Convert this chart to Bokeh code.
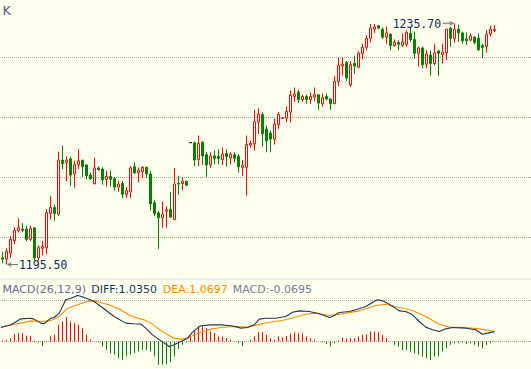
from bokeh.plotting import figure
from bokeh.layouts import column
from bokeh.models import Range1d, Arrow, OpenHead
from bokeh.core.properties import value
from bokeh.embed import file_html
from bokeh.resources import INLINE

# ---------------- data ----------------
opens = [1196.6, 1196.4, 1197.4, 1199.5, 1201.1, 1201.4, 1201.4, 1199.7, 1201.6, 1196.6,
         1198.2, 1198.3, 1204.0, 1205.0, 1203.9, 1212.9, 1212.5, 1213.1, 1210.6, 1212.1,
         1212.9, 1212.1, 1210.4, 1209.0, 1211.6, 1211.4, 1209.7, 1210.2, 1209.8, 1208.4,
         1209.0, 1207.2, 1207.6, 1211.8, 1210.8, 1211.0, 1211.7, 1210.6, 1205.8, 1204.1,
         1203.3, 1204.4, 1204.7, 1203.0, 1209.0, 1209.0, 1209.4, 1215.8, 1215.8, 1213.0,
         1215.9, 1213.8, 1212.1, 1213.6, 1213.5, 1213.0, 1214.0, 1213.3, 1213.8, 1213.5,
         1211.7, 1211.7, 1215.4, 1215.6, 1219.2, 1220.5, 1218.1, 1217.4, 1216.4, 1218.8,
         1219.9, 1219.9, 1220.9, 1223.5, 1224.2, 1223.0, 1223.5, 1223.0, 1223.4, 1223.8,
         1222.3, 1223.5, 1223.1, 1222.3, 1226.0, 1228.6, 1229.2, 1225.4, 1229.0, 1228.4,
         1230.7, 1231.7, 1233.2, 1234.7, 1235.3, 1234.7, 1233.4, 1233.9, 1232.0, 1232.5,
         1232.0, 1232.2, 1234.0, 1233.0, 1230.7, 1231.6, 1228.9, 1230.4, 1229.0, 1231.1,
         1230.5, 1230.8, 1234.9, 1233.1, 1234.7, 1234.1, 1233.1, 1232.9, 1233.4, 1233.2,
         1232.0, 1231.8, 1233.9, 1234.5]
highs = [1197.6, 1198.2, 1200.2, 1201.7, 1203.2, 1202.4, 1201.9, 1201.9, 1201.7, 1198.7,
         1199.4, 1204.7, 1206.9, 1205.5, 1214.3, 1215.3, 1213.5, 1213.5, 1212.8, 1214.7,
         1212.9, 1212.1, 1210.8, 1213.3, 1211.8, 1211.7, 1211.1, 1211.2, 1210.1, 1209.4,
         1209.4, 1208.4, 1211.9, 1212.5, 1211.7, 1211.9, 1211.8, 1211.1, 1206.2, 1204.4,
         1206.0, 1205.2, 1207.6, 1211.6, 1210.3, 1210.0, 1209.4, 1215.8, 1215.8, 1217.0,
         1216.0, 1214.2, 1214.2, 1214.5, 1214.7, 1215.0, 1214.7, 1214.2, 1214.2, 1213.9,
         1212.9, 1217.0, 1216.1, 1221.3, 1221.5, 1220.9, 1218.7, 1217.8, 1219.8, 1220.9,
         1219.9, 1221.8, 1224.5, 1225.0, 1224.6, 1223.8, 1223.8, 1224.2, 1225.0, 1223.8,
         1224.0, 1224.0, 1223.1, 1226.9, 1230.0, 1230.0, 1229.4, 1229.4, 1230.3, 1231.0,
         1232.3, 1233.7, 1235.6, 1235.6, 1235.4, 1235.0, 1235.1, 1234.0, 1233.0, 1232.9,
         1234.0, 1234.5, 1235.1, 1234.3, 1231.8, 1231.8, 1231.2, 1231.2, 1232.3, 1231.2,
         1232.3, 1234.8, 1235.1, 1235.7, 1235.5, 1234.3, 1234.2, 1234.0, 1233.5, 1234.0,
         1232.3, 1234.6, 1235.3, 1235.4]
lows = [1195.7, 1195.5, 1196.6, 1198.9, 1200.8, 1200.9, 1199.4, 1199.4, 1196.2, 1196.1,
        1197.0, 1197.2, 1203.0, 1202.8, 1203.6, 1211.4, 1209.4, 1208.6, 1208.3, 1211.4,
        1210.1, 1209.7, 1209.6, 1208.8, 1211.1, 1208.8, 1208.5, 1208.5, 1207.8, 1207.6,
        1206.5, 1206.6, 1206.6, 1210.6, 1209.2, 1209.9, 1210.0, 1204.5, 1203.6, 1198.1,
        1201.6, 1201.7, 1203.3, 1203.0, 1207.1, 1207.9, 1208.7, 1215.8, 1211.9, 1211.9,
        1212.1, 1210.1, 1211.6, 1212.2, 1212.2, 1212.1, 1211.8, 1212.2, 1212.5, 1210.8,
        1210.3, 1207.0, 1215.0, 1214.5, 1217.3, 1215.1, 1214.2, 1214.2, 1215.5, 1218.1,
        1219.9, 1219.2, 1219.2, 1222.6, 1222.4, 1222.6, 1222.3, 1222.3, 1222.7, 1221.2,
        1221.8, 1222.8, 1221.3, 1222.2, 1225.2, 1227.0, 1226.1, 1225.1, 1227.3, 1228.2,
        1229.7, 1231.2, 1232.5, 1234.1, 1234.7, 1233.1, 1232.3, 1231.2, 1231.8, 1231.2,
        1231.8, 1231.8, 1232.6, 1229.8, 1228.5, 1228.2, 1228.2, 1227.0, 1228.7, 1226.9,
        1229.0, 1229.6, 1231.8, 1232.5, 1232.6, 1232.3, 1232.1, 1232.7, 1232.2, 1231.1,
        1229.9, 1230.8, 1233.5, 1234.2]
closes = [1196.4, 1197.7, 1199.7, 1201.2, 1201.6, 1201.2, 1199.7, 1201.5, 1196.6, 1198.3,
          1198.5, 1204.1, 1205.0, 1204.0, 1212.9, 1212.3, 1212.9, 1210.4, 1212.1, 1212.8,
          1211.8, 1210.3, 1209.8, 1211.6, 1211.3, 1209.6, 1210.2, 1209.7, 1208.4, 1208.9,
          1207.2, 1207.8, 1211.6, 1210.8, 1211.2, 1211.7, 1210.6, 1205.6, 1204.0, 1203.3,
          1203.9, 1204.6, 1203.4, 1208.9, 1208.9, 1209.4, 1208.7, 1215.8, 1212.9, 1215.7,
          1213.6, 1212.1, 1213.6, 1213.2, 1213.2, 1213.9, 1213.5, 1213.9, 1213.2, 1211.8,
          1212.0, 1215.5, 1215.7, 1219.3, 1220.6, 1217.3, 1216.1, 1216.4, 1218.9, 1220.5,
          1219.9, 1221.0, 1223.7, 1223.9, 1223.0, 1223.5, 1223.0, 1223.5, 1223.8, 1222.4,
          1223.3, 1223.1, 1222.3, 1226.0, 1228.7, 1228.9, 1226.6, 1228.8, 1228.6, 1230.7,
          1231.7, 1233.2, 1234.9, 1235.1, 1234.9, 1233.4, 1234.1, 1232.0, 1232.6, 1232.2,
          1232.6, 1234.2, 1233.0, 1230.7, 1231.6, 1228.8, 1230.6, 1229.0, 1230.8, 1230.7,
          1230.9, 1234.7, 1233.2, 1234.7, 1234.1, 1232.8, 1232.8, 1233.6, 1232.5, 1231.3,
          1231.7, 1233.9, 1234.7, 1234.7]

macd_hist = [0.11, 0.18, 0.35, 0.77, 0.88, 0.88, 0.63, 0.6, 0.11, -0.11,
             -0.46, -0.07, 0.53, 0.7, 1.75, 2.1, 2.56, 2.1, 1.93, 1.75,
             1.4, 0.7, 0.18, 0.04, -0.11, -0.53, -0.88, -1.23, -1.4, -1.75,
             -1.93, -1.58, -1.4, -1.23, -1.05, -0.88, -0.88, -1.05, -1.58, -2.45,
             -2.45, -2.38, -2.17, -1.58, -0.77, -0.35, -0.11, 0.53, 1.23, 1.58,
             1.58, 1.4, 1.05, 0.88, 0.53, 0.53, 0.35, 0.18, 0.0, -0.18,
             -0.46, 0.0, 0.18, 0.53, 0.98, 0.98, 0.7, 0.35, 0.18, 0.53,
             0.46, 0.6, 0.81, 0.95, 0.88, 0.81, 0.53, 0.35, 0.18, 0.0,
             -0.11, -0.25, -0.53, -0.18, 0.11, 0.42, 0.28, 0.35, 0.35, 0.53,
             0.7, 0.77, 1.05, 1.05, 0.98, 0.7, 0.35, 0.0, -0.35, -0.53,
             -0.88, -0.88, -1.05, -1.23, -1.4, -1.58, -1.75, -1.93, -1.58, -1.58,
             -1.05, -0.7, -0.35, -0.18, -0.18, -0.11, -0.28, -0.18, -0.35, -0.53,
             -0.7, -0.35, -0.18, -0.07]

diff_idx = [-0.4, 2.1, 4.6, 7.1, 7.9, 9.6, 10.4, 12.1, 12.9, 14.2, 15.8, 17.1, 18.75, 19.6,
            21.25, 22.9, 24.6, 26.25, 27.9, 30.8, 32.9, 34.6, 35.8, 37.5, 39.6, 41.7, 42.9,
            44.6, 46.25, 47.5, 48.75, 49.6, 52.1, 54.6, 57.1, 58.75, 59.6, 61.25, 62.9, 64.2,
            65.8, 68.3, 70.8, 72.5, 74.2, 76.7, 79.2, 81.7, 82.5, 84.2, 86.7, 88.3, 90.8,
            92.5, 93.75, 95.0, 96.7, 99.2, 100.8, 102.5, 104.2, 105.8, 107.5, 109.2, 110.8,
            112.5, 115.8, 118.3, 120.0, 121.25, 123.0]
diff_val = [1.47, 1.75, 2.38, 2.45, 2.35, 1.93, 1.86, 2.45, 2.52, 2.98, 4.38, 4.55, 4.83, 4.76,
            4.48, 4.2, 3.68, 3.15, 2.63, 1.93, 1.86, 1.82, 1.4, 0.7, 0.07, -0.53, -0.35,
            0.0, 0.35, 0.98, 1.4, 1.65, 1.75, 1.75, 1.65, 1.51, 1.4, 1.47, 1.75, 2.35,
            2.45, 2.45, 2.63, 3.08, 3.22, 3.15, 2.91, 2.52, 2.63, 3.05, 3.15, 3.33, 3.68,
            4.1, 4.38, 4.27, 3.92, 3.22, 3.15, 2.8, 2.1, 1.51, 1.23, 1.05, 1.33,
            1.47, 1.4, 1.23, 0.77, 0.88, 1.035]
dea_idx = [-0.4, 2.1, 4.6, 7.1, 9.6, 12.1, 14.2, 16.25, 18.75, 21.25, 22.9, 24.6, 27.1, 29.6,
           31.25, 32.9, 35.4, 37.1, 38.75, 41.25, 42.9, 44.6, 46.25, 47.9, 49.6, 52.1, 54.6,
           57.9, 61.25, 63.75, 65.8, 70.8, 75.8, 78.3, 81.7, 84.2, 89.2, 93.3, 95.8, 99.2,
           102.5, 105.8, 109.2, 111.7, 115.8, 119.2, 123.0]
dea_val = [1.51, 1.75, 1.93, 2.17, 2.1, 2.21, 2.63, 3.5, 3.85, 4.2, 4.27, 4.1, 3.78, 3.33,
           2.87, 2.56, 2.28, 1.93, 1.4, 0.7, 0.35, 0.25, 0.35, 0.7, 0.98, 1.3, 1.47,
           1.58, 1.51, 1.75, 1.95, 2.28, 2.87, 2.98, 2.73, 2.87, 3.22, 3.78, 3.92, 3.57,
           3.26, 2.63, 1.82, 1.51, 1.47, 1.33, 1.0697]

price_grid = [1200, 1210, 1220, 1230]
macd_grid = [0, 4.31]
macd_title = ["MACD(26,12,9)", "DIFF:1.0350", "DEA:1.0697", "MACD:-0.0695"]
hi_text = "1235.70"
lo_text = "1195.50"

# ---------------- style ----------------
BG = "#FFFFEE"
RED = "#FF0000"
GREEN = "#008000"
NAVY = "#1C3560"
ORANGE = "#FF8C00"
GRID = "#A0A0A0"

W = 531
n = len(opens)
idx = list(range(n))
X0 = -0.5              # bar centres on whole pixels (4 px per bar)
X1 = X0 + W / 4.0
PX = 6.0               # px per price unit in the main panel
YTOP = 1230 + 57.0 / PX
YBOT = YTOP - 278 / PX
MPX = 9.52             # px per MACD unit
MTOP = 62.0 / MPX
MBOT = -(90 - 62.0) / MPX

up = [i for i in idx if closes[i] > opens[i]]
dn = [i for i in idx if closes[i] < opens[i]]
fl = [i for i in idx if closes[i] == opens[i]]
wick_col = [RED if closes[i] > opens[i] else (GREEN if closes[i] < opens[i] else "black") for i in idx]


def dotted(fig, levels):
    k = len(levels)
    fig.segment(x0=[X0 - 0.125] * k, y0=levels, x1=[X1] * k, y1=levels,
                line_color=GRID, line_dash="1 1", line_width=1)


p = figure(width=W, height=278, x_range=Range1d(X0, X1), y_range=Range1d(YBOT, YTOP),
           x_axis_type=None, y_axis_type=None, toolbar_location=None, output_backend="svg",
           min_border=0, background_fill_color=BG, border_fill_color=BG, outline_line_color=None)

dotted(p, price_grid)

p.segment(x0=idx, y0=highs, x1=idx, y1=lows, line_color=wick_col, line_width=1)
p.vbar(x=dn, width=0.5, top=[opens[i] for i in dn], bottom=[closes[i] for i in dn],
       fill_color=GREEN, line_color=GREEN, line_width=1)
p.vbar(x=up, width=0.5, top=[closes[i] for i in up], bottom=[opens[i] for i in up],
       fill_color=BG, line_color=RED, line_width=1)
p.segment(x0=[i - 0.375 for i in fl], y0=[closes[i] for i in fl],
          x1=[i + 0.375 for i in fl], y1=[closes[i] for i in fl], line_color="black", line_width=1)

hi_i = max(idx, key=lambda i: highs[i])
lo_i = min(idx, key=lambda i: lows[i])
p.add_layout(Arrow(x_start=hi_i - 3.0, y_start=highs[hi_i], x_end=hi_i - 0.3, y_end=highs[hi_i],
                   line_color="#707070", line_width=1,
                   end=OpenHead(size=4, line_color="#707070", line_width=1)))
p.text(x=[hi_i - 3.35], y=[highs[hi_i]], text=[hi_text], text_align="right", text_baseline="middle",
       text_color="#0E2A5A", text_font=value("DejaVu Sans Mono"), text_font_size="11.5px")
p.add_layout(Arrow(x_start=lo_i + 2.9, y_start=lows[lo_i], x_end=lo_i + 0.3, y_end=lows[lo_i],
                   line_color="#707070", line_width=1,
                   end=OpenHead(size=4, line_color="#707070", line_width=1)))
p.text(x=[lo_i + 3.1], y=[lows[lo_i]], text=[lo_text], text_align="left", text_baseline="middle",
       text_color="#0E2A5A", text_font=value("DejaVu Sans Mono"), text_font_size="11.5px")
p.text(x=[0.0], y=[YTOP - 0.4], text=["K"], text_align="left", text_baseline="top",
       text_color="#5E5A96", text_font=value("DejaVu Sans"), text_font_size="13px")

# ---------------- MACD panel ----------------
q = figure(width=W, height=91, x_range=p.x_range, y_range=Range1d(MBOT, MTOP),
           x_axis_type=None, y_axis_type=None, toolbar_location=None, output_backend="svg",
           min_border=0, min_border_top=1, background_fill_color=BG, border_fill_color="#BEBEBE",
           outline_line_color=None)
dotted(q, macd_grid)

hist_col = [RED if v >= 0 else GREEN for v in macd_hist]
q.segment(x0=idx, y0=[0] * n, x1=idx, y1=macd_hist, line_color=hist_col, line_width=1)
q.line(dea_idx, dea_val, line_color=ORANGE, line_width=1.1)
q.line(diff_idx, diff_val, line_color=NAVY, line_width=1.1)

title_px = [2, 90.7, 162.3, 232.3]
q.text(x=[X0 + t / 4.0 for t in title_px], y=[MTOP - 9.5 / MPX] * 4, text=macd_title,
       text_color=["#6A6A8C", NAVY, ORANGE, "#7A7A96"], text_align="left", text_baseline="middle",
       text_font=value("DejaVu Sans"), text_font_size="11px")

layout = column(p, q, spacing=0)
open("out.html", "w").write(file_html(layout, INLINE))
